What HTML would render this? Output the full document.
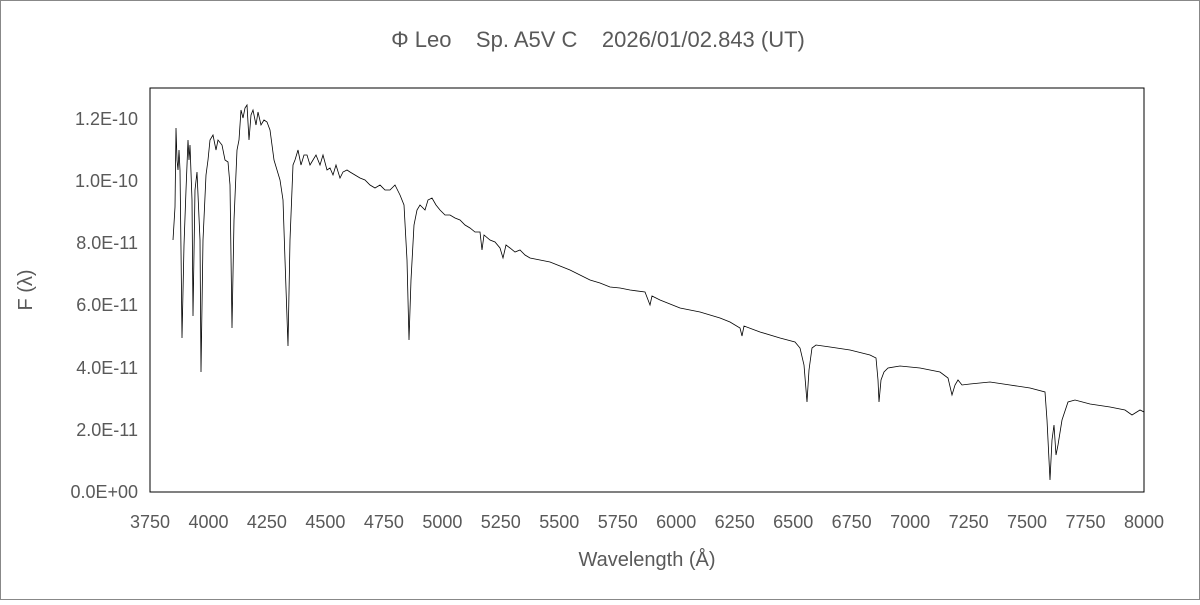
<!DOCTYPE html>
<html><head><meta charset="utf-8"><style>
body{margin:0;background:#fff}
svg text{font-family:"Liberation Sans",sans-serif;fill:#595959}
</style></head><body>
<svg width="1200" height="600" xmlns="http://www.w3.org/2000/svg">
<rect x="0.5" y="0.5" width="1199" height="599" fill="#fff" stroke="#888"/>
<text x="598" y="47" font-size="22" text-anchor="middle" xml:space="preserve">Φ Leo    Sp. A5V C    2026/01/02.843 (UT)</text>
<rect x="150" y="88" width="994" height="404" fill="none" stroke="#000" stroke-width="1"/>
<g font-size="18" text-anchor="end">
<text x="138" y="498">0.0E+00</text>
<text x="138" y="436">2.0E-11</text>
<text x="138" y="374">4.0E-11</text>
<text x="138" y="311">6.0E-11</text>
<text x="138" y="249">8.0E-11</text>
<text x="138" y="187">1.0E-10</text>
<text x="138" y="125">1.2E-10</text>
</g>
<g font-size="18" text-anchor="middle">
<text x="150" y="528">3750</text><text x="208.5" y="528">4000</text><text x="266.9" y="528">4250</text><text x="325.4" y="528">4500</text><text x="383.9" y="528">4750</text><text x="442.4" y="528">5000</text><text x="500.8" y="528">5250</text><text x="559.3" y="528">5500</text><text x="617.8" y="528">5750</text><text x="676.2" y="528">6000</text><text x="734.7" y="528">6250</text><text x="793.2" y="528">6500</text><text x="851.6" y="528">6750</text><text x="910.1" y="528">7000</text><text x="968.6" y="528">7250</text><text x="1027" y="528">7500</text><text x="1085.5" y="528">7750</text><text x="1144" y="528">8000</text>
</g>
<text x="647" y="566" font-size="20" text-anchor="middle">Wavelength (Å)</text>
<text transform="translate(32,290) rotate(-90)" font-size="20" text-anchor="middle">F (λ)</text>
<polyline fill="none" stroke="#000" stroke-width="0.8" points="173,240 175,207 176,128 177,160 178,170 179,150 180,170 181,250 182,338 184,245 186,190 188,140 189,160 190,145 192,200 193,316 195,190 197,172 200,240 201,372 203,240 206,175 208,160 210,140 213,135 216,150 218,140 222,145 225,160 228,162 230,185 232,328 234,220 237,150 239,140 241,110 243,118 245,108 247,105 249,140 251,115 253,110 256,125 258,112 261,125 264,120 267,122 270,130 274,160 277,170 280,180 283,200 285,260 288,346 290,240 293,165 295,160 298,150 301,165 304,155 307,155 310,165 313,160 316,155 320,165 323,155 327,170 330,168 333,175 336,165 340,178 343,172 347,170 350,172 355,175 360,178 365,180 370,185 375,188 380,185 385,190 390,190 395,185 400,195 404,205 407,260 409,340 411,280 414,225 417,210 420,205 425,210 428,200 432,198 436,205 440,210 445,215 450,215 455,218 460,220 465,225 470,228 475,232 480,232 482,250 484,235 490,240 495,242 500,248 503,258 506,245 510,248 515,252 520,250 525,255 530,258 540,260 550,262 560,266 570,270 580,275 590,280 600,283 610,287 620,288 630,290 645,292 650,305 652,296 660,300 680,308 700,312 720,318 730,322 740,328 742,336 744,326 760,332 780,338 795,342 800,348 804,365 807,402 809,370 812,348 816,345 830,347 850,350 870,355 876,358 878,380 879,402 881,380 884,372 888,368 900,366 920,368 940,372 948,378 952,395 955,385 958,380 962,385 970,384 990,382 1010,385 1030,388 1045,392 1047,420 1050,480 1052,440 1054,425 1056,455 1058,445 1062,420 1068,402 1075,400 1090,404 1110,407 1125,410 1132,415 1140,410 1144,412"/>
</svg>
</body></html>
